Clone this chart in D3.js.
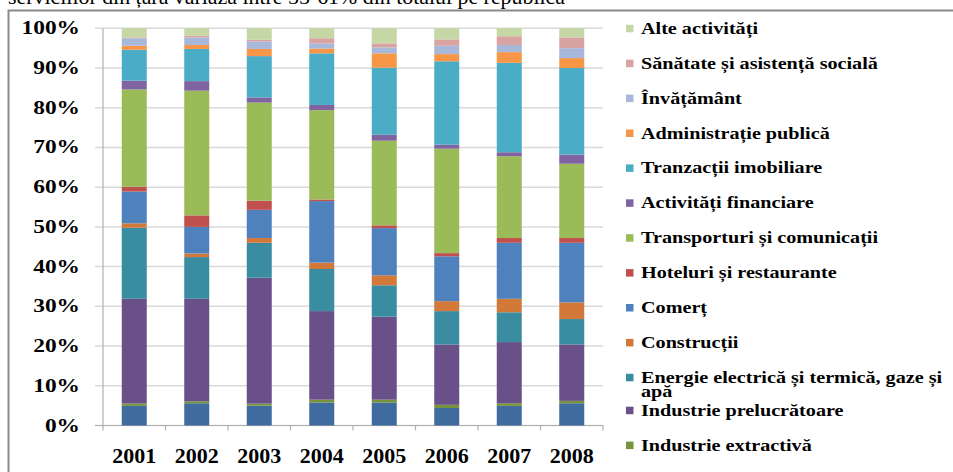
<!DOCTYPE html>
<html><head><meta charset="utf-8">
<script src="https://cdn.jsdelivr.net/npm/d3@7"></script>
<style>
html,body{margin:0;padding:0;background:#fff;}
svg{display:block;}
text{font-family:"Liberation Serif","Times New Roman",serif;}
</style></head>
<body>
<svg id="chart" width="953" height="472"></svg>
<script>
const years = ["2001","2002","2003","2004","2005","2006","2007","2008"];
const seriesNames = ["Agricultură","Industrie extractivă","Industrie prelucrătoare","Energie electrică și termică, gaze și apă","Construcții","Comerț","Hoteluri și restaurante","Transporturi și comunicații","Activități financiare","Tranzacții imobiliare","Administrație publică","Învățământ","Sănătate și asistență socială","Alte activități"];
const agricultura   = [4.95,5.6,5.0,5.8,5.8,4.4,4.95,5.6];
const extractiva    = [0.6,0.5,0.5,0.7,0.7,0.8,0.65,0.6];
const prelucratoare = [26.35,25.8,31.7,22.3,20.9,15.2,15.4,14.2];
const energie       = [17.9,10.5,8.8,10.6,7.9,8.4,7.5,6.4];
const constructii   = [1.1,0.9,1.2,1.6,2.5,2.5,3.4,4.2];
const comert        = [8.0,6.7,7.1,15.5,11.9,11.3,14.1,15.0];
const hoteluri      = [1.2,2.9,2.3,0.4,0.7,0.8,1.2,1.2];
const transporturi  = [24.5,31.4,24.7,22.5,21.3,26.3,20.6,18.7];
const financiare    = [2.2,2.4,1.3,1.3,1.5,1.0,1.0,2.3];
const imobiliare    = [7.8,8.1,10.4,13.0,16.9,21.0,22.5,21.8];
const administratie = [1.0,1.0,1.8,1.2,3.6,1.8,2.7,2.5];
const invatamint    = [1.9,1.9,1.9,1.3,1.5,2.1,1.8,2.5];
const sanatate      = [0.2,0.4,0.4,1.3,1.0,1.6,2.2,2.7];
const alte          = [2.3,1.9,2.9,2.5,3.8,2.8,2.0,2.3];
const seriesValues = [agricultura,extractiva,prelucratoare,energie,constructii,comert,hoteluri,transporturi,financiare,imobiliare,administratie,invatamint,sanatate,alte];
const colors = ["#3F6B9E","#77933C","#6A5088","#3A8CA0","#D2793A","#4F81BD","#C0504D","#9BBB59","#8064A2","#4BACC6","#F79646","#A7B8DB","#D9A3A2","#C5D7A5"];
const yTicks = [0,0.1,0.2,0.3,0.4,0.5,0.6,0.7,0.8,0.9,1.0];

const svg = d3.select("#chart");
const SERIF = "'Liberation Serif','Times New Roman',serif";

// clipped text line from the document above
svg.append("text").attr("x",8).attr("y",3.5).attr("font-size",22).attr("font-family",SERIF)
  .attr("textLength",557).attr("lengthAdjust","spacingAndGlyphs")
  .text("serviciilor din țară variază între 55-61% din totalul pe republică");

// frame
svg.append("rect").attr("x",8.5).attr("y",10.5).attr("width",960).attr("height",480)
  .attr("fill","#fff").attr("stroke","#8a8a8a").attr("stroke-width",2);

const rows = years.map((y,i)=>{const o={year:y}; seriesNames.forEach((s,j)=>o[s]=seriesValues[j][i]); return o;});
const stack = d3.stack().keys(seriesNames).offset(d3.stackOffsetExpand)(rows);

const x = d3.scaleBand().domain(years).range([103,603]).paddingInner(0.6).paddingOuter(0.3);
const y = d3.scaleLinear().domain([0,1]).range([425.5,28.3]);

// gridlines
svg.append("g").selectAll("line").data(yTicks).join("line")
  .attr("x1",95).attr("x2",603).attr("y1",d=>y(d)).attr("y2",d=>y(d))
  .attr("stroke","#d9d9d9").attr("stroke-width",1.5);

// axis lines
svg.append("line").attr("x1",103).attr("x2",103).attr("y1",y(1)).attr("y2",y(0)).attr("stroke","#b0b0b0").attr("stroke-width",1.2);
svg.append("line").attr("x1",95).attr("x2",603).attr("y1",y(0)).attr("y2",y(0)).attr("stroke","#b0b0b0").attr("stroke-width",1.2);
const bounds = years.map(d=>x(d)-x.step()*x.paddingOuter()).concat([603]);
svg.append("g").selectAll("line").data(bounds).join("line")
  .attr("x1",d=>d).attr("x2",d=>d).attr("y1",y(0)).attr("y2",y(0)+5)
  .attr("stroke","#b0b0b0").attr("stroke-width",1.2);

// bars
svg.append("g").selectAll("g").data(stack).join("g").attr("fill",(d,i)=>colors[i])
  .selectAll("rect").data(d=>d).join("rect")
  .attr("x",d=>x(d.data.year)).attr("width",x.bandwidth())
  .attr("y",d=>y(d[1])).attr("height",d=>y(d[0])-y(d[1]));

function stretch(node,f){const w=node.getComputedTextLength(); d3.select(node).attr("textLength",w*f).attr("lengthAdjust","spacingAndGlyphs");}

// y labels
svg.append("g").selectAll("text").data(yTicks).join("text")
  .attr("x",80).attr("y",d=>y(d)+6).attr("text-anchor","end")
  .attr("font-family",SERIF).attr("font-size",18).attr("font-weight","bold").attr("fill","#000")
  .text(d=>d3.format(".0%")(d))
  .each(function(){stretch(this,1.3);});

// x labels
svg.append("g").selectAll("text").data(years).join("text")
  .attr("x",d=>x(d)+x.bandwidth()/2).attr("y",463).attr("text-anchor","middle")
  .attr("font-family",SERIF).attr("font-size",22).attr("font-weight","bold").attr("fill","#000")
  .text(d=>d);

// legend (top to bottom: reversed order)
const legendItems = seriesNames.map((s,i)=>({name:s,color:colors[i]})).reverse();
const legendY = (i)=> 28.3 + i*34.9 - (i>=11 ? 2 : 0);
const lg = svg.append("g").selectAll("g").data(legendItems).join("g")
  .attr("transform",(d,i)=>`translate(626,${legendY(i)})`);
lg.append("rect").attr("x",0).attr("y",-3.5).attr("width",7.5).attr("height",7.5).attr("fill",d=>d.color);
const lt = lg.append("text").attr("x",15).attr("y",5.5).attr("font-family",SERIF)
  .attr("font-size",16).attr("font-weight","bold").attr("fill","#000");
lt.each(function(d){
  const t=d3.select(this);
  if(d.name.startsWith("Energie")){
    t.append("tspan").attr("x",15).text("Energie electrică și termică, gaze și");
    t.append("tspan").attr("x",15).attr("dy",14).text("apă");
  } else t.text(d.name);
});
lt.each(function(){
  const t=d3.select(this);
  const spans=t.selectAll("tspan");
  if(spans.size()){spans.each(function(){stretch(this,1.26);});}
  else stretch(this,1.26);
});
</script>
</body></html>
